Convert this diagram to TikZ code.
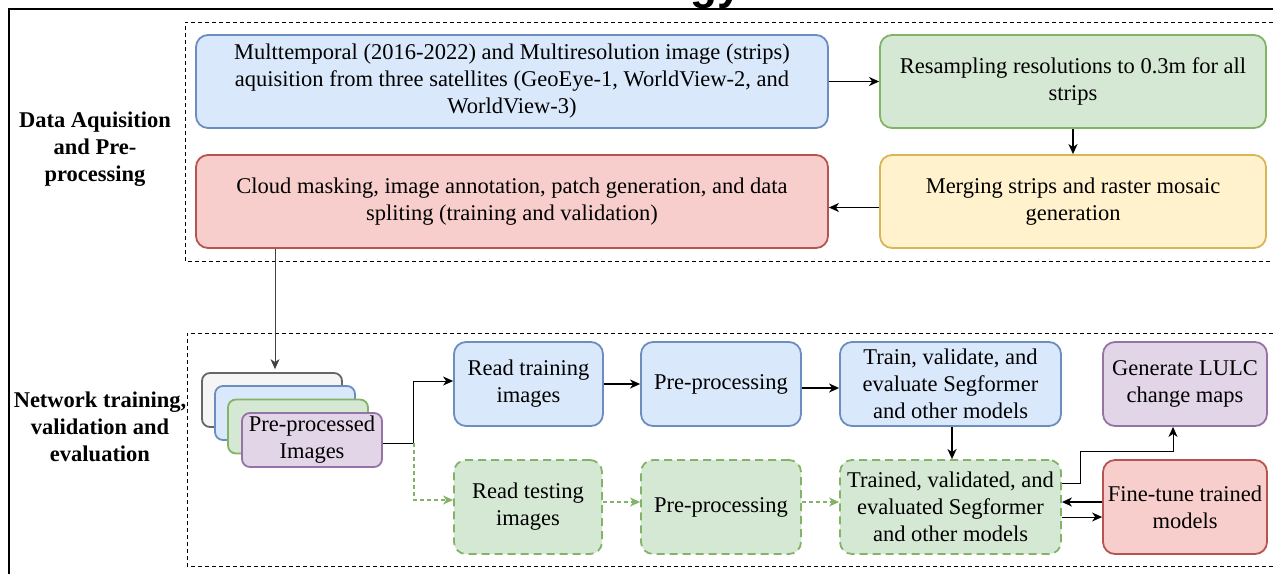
\documentclass[tikz,border=0pt]{standalone}
\usepackage{fontspec}
\setmainfont{Liberation Serif}
\newfontfamily\titlesans{Liberation Sans}
\usetikzlibrary{arrows.meta}

\definecolor{bluefill}{HTML}{DAE8FC}
\definecolor{blueline}{HTML}{6C8EBF}
\definecolor{greenfill}{HTML}{D5E8D4}
\definecolor{greenline}{HTML}{82B366}
\definecolor{yellowfill}{HTML}{FFF2CC}
\definecolor{yellowline}{HTML}{D6B656}
\definecolor{redfill}{HTML}{F8CECC}
\definecolor{redline}{HTML}{B85450}
\definecolor{purplefill}{HTML}{E1D5E7}
\definecolor{purpleline}{HTML}{9673A6}
\definecolor{grayfill}{HTML}{F5F5F5}
\definecolor{grayline}{HTML}{666666}

\begin{document}
\begin{tikzpicture}[x=1pt,y=-1pt,
    font=\fontsize{22.5}{27}\selectfont,
    box/.style={draw, rounded corners=12pt, line width=1.8pt, align=center, inner sep=0pt},
    bluebox/.style={box, fill=bluefill, draw=blueline},
    greenbox/.style={box, fill=greenfill, draw=greenline},
    testbox/.style={greenbox, dash pattern=on 8pt off 5pt},
    yellowbox/.style={box, fill=yellowfill, draw=yellowline},
    redbox/.style={box, fill=redfill, draw=redline},
    purplebox/.style={box, fill=purplefill, draw=purpleline},
    graybox/.style={box, fill=grayfill, draw=grayline},
    stackbox/.style={minimum width=140pt, minimum height=54pt, rounded corners=8pt},
    section/.style={draw, dash pattern=on 4pt off 3pt, line width=0.8pt},
    phase/.style={align=center, font=\fontsize{22.5}{27}\selectfont\bfseries},
    arr/.style={-{Stealth[length=10pt,width=9pt,inset=3pt]}, line width=1.4pt},
    testarr/.style={arr, draw=greenline, line width=1.2pt, dash pattern=on 4pt off 3pt}]

    \useasboundingbox (0,0) rectangle (1273,574);

    % title, cut by the frame
    \begin{scope}
        \clip (0,0) rectangle (1273,8);
        \node[anchor=base east, inner sep=0pt, font=\titlesans\bfseries\fontsize{44}{44}\selectfont] (title) at (742,-1) {Methodology};
    \end{scope}
    \draw[line width=2.5pt] (1273,9) -- (9,9) -- (9,574);

    % data aquisition and pre-processing
    \draw[section] (1273,22) -- (185,22) -- (185,261) -- (1273,261);
    \node[phase] (dataphase) at (95,149) {Data Aquisition\\and Pre-\\processing};

    \node[bluebox, minimum width=632pt, minimum height=93pt] (acq) at (512,81.5)
        {Multtemporal (2016-2022) and Multiresolution image (strips)\\aquisition from three satellites (GeoEye-1, WorldView-2, and\\WorldView-3)};
    \node[greenbox, minimum width=386pt, minimum height=93pt] (resample) at (1073,81.5)
        {Resampling resolutions to 0.3m for all\\strips};
    \node[yellowbox, minimum width=386pt, minimum height=93pt] (merge) at (1073,201.5)
        {Merging strips and raster mosaic\\generation};
    \node[redbox, minimum width=632pt, minimum height=93pt] (cloud) at (512,201.5)
        {Cloud masking, image annotation, patch generation, and data\\spliting (training and validation)};

    \draw[arr] (acq) -- (resample);
    \draw[arr] (resample) -- (merge);
    \draw[arr] ([yshift=-6pt]merge.west) -- ([yshift=-6pt]cloud.east);

    % network training, validation and evaluation
    \draw[section] (1273,333) -- (187,333) -- (187,566) -- (1273,566);
    \node[phase] (netphase) at (100,427) {Network training,\\validation and\\evaluation};

    \node[graybox, stackbox] (stack1) at (272,400) {};
    \node[bluebox, stackbox] (stack2) at (285,413) {};
    \node[greenbox, stackbox] (stack3) at (298,426.5) {};
    \node[purplebox, stackbox] (stack4) at (312,440) {Pre-processed\\Images};

    \draw[arr, line width=0.8pt, draw=black!75, shorten >=3pt] (cloud.south -| stack1.north) ++(3,0) -- ([xshift=3pt]stack1.north);

    \node[bluebox, minimum width=149pt, minimum height=84pt] (readtrain) at (528.5,384) {Read training\\images};
    \node[bluebox, minimum width=160pt, minimum height=84pt] (pretrain) at (721,384) {Pre-processing};
    \node[bluebox, minimum width=221pt, minimum height=84pt] (train) at (950.5,384) {Train, validate, and\\evaluate Segformer\\and other models};
    \node[purplebox, minimum width=164pt, minimum height=84pt] (lulc) at (1185,384) {Generate LULC\\change maps};

    \node[testbox, minimum width=148pt, minimum height=94pt] (readtest) at (528,507) {Read testing\\images};
    \node[testbox, minimum width=160pt, minimum height=94pt] (pretest) at (721,507) {Pre-processing};
    \node[testbox, minimum width=221pt, minimum height=94pt] (trained) at (950.5,507) {Trained, validated, and\\evaluated Segformer\\and other models};
    \node[redbox, minimum width=164pt, minimum height=94pt] (finetune) at (1185,507) {Fine-tune trained\\models};

    \draw[arr, line width=1pt] ([yshift=-3pt]stack4.east) -- ++(31,0) |- ([yshift=3pt]readtrain.west);
    \draw[testarr] ([yshift=-3pt]stack4.east) ++(31,0) |- ([yshift=7pt]readtest.west);

    \draw[arr] (readtrain) -- (pretrain);
    \draw[arr] ([yshift=-4pt]pretrain.east) -- ([yshift=-4pt]train.west);
    \draw[testarr] ([yshift=5pt]readtest.east) -- ([yshift=5pt]pretest.west);
    \draw[testarr] ([yshift=5pt]pretest.east) -- ([yshift=5pt]trained.west);

    \draw[arr, line width=2.4pt] ([xshift=1.5pt]train.south) -- ([xshift=1.5pt]trained.north);
    \draw[arr, line width=1pt] ([yshift=24pt]trained.east) -- ++(19,0) |- ([xshift=-12pt,yshift=-25pt]lulc.south) -- ([xshift=-12pt]lulc.south);
    \draw[arr, line width=2pt] ([yshift=5pt]finetune.west) -- ([yshift=5pt]trained.east);
    \draw[arr, line width=1pt] ([yshift=-10pt]trained.east) -- ([yshift=-10pt]finetune.west);
\end{tikzpicture}
\end{document}
